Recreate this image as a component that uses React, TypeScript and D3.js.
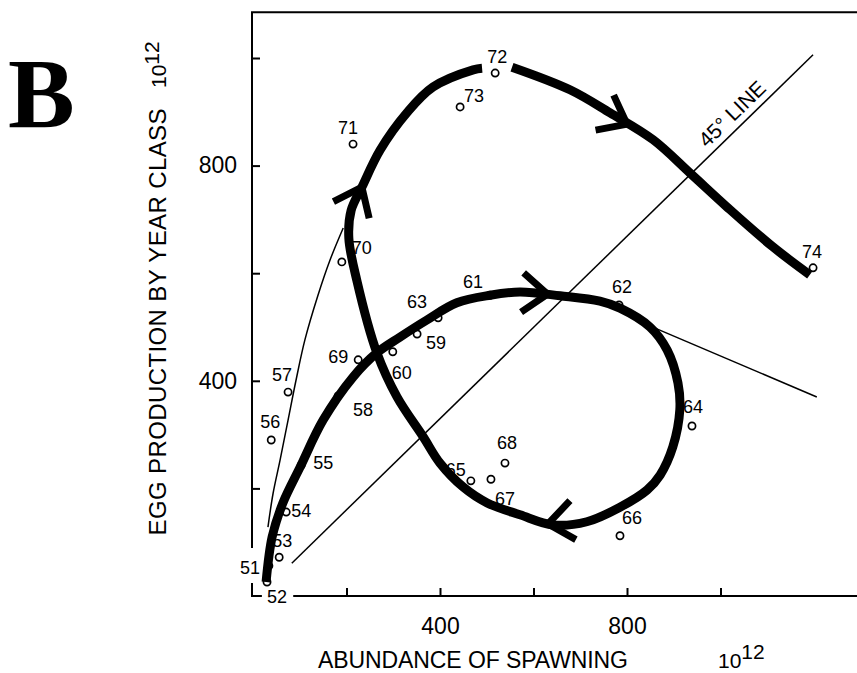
import { useEffect, useRef } from 'react';
import * as d3 from 'd3';

const W = 857;
const H = 673;

// year classes: abundance of spawning (x) vs egg production (y), both in 10^12
const years = ['51', '52', '53', '54', '55', '56', '57', '58', '59', '60', '61', '62', '63', '64', '65', '66', '67', '68', '69', '70', '71', '72', '73', '74'];
const spawning = [34, 30, 56, 71, 103, 39, 75, 182, 351, 299, 507, 783, 396, 939, 466, 785, 509, 539, 225, 190, 214, 518, 443, 1198];
const eggs = [56, 26, 72, 156, 243, 290, 379, 372, 487, 454, 559, 541, 517, 316, 214, 112, 217, 247, 439, 621, 840, 972, 909, 610];

// thick hand-drawn trajectory, split where it breaks around 72
const trendToPeak: [number, number][] = [
  [28, 26], [41, 110], [64, 173], [101, 240], [150, 327], [214, 407], [265, 452], [314, 481],
  [372, 513], [436, 545], [507, 559], [571, 565], [657, 558], [742, 548], [785, 535], [849, 500],
  [886, 457], [909, 396], [913, 346], [898, 277], [871, 225], [843, 197], [785, 165], [714, 138],
  [642, 132], [571, 151], [501, 173], [449, 203], [400, 247], [364, 296], [308, 370], [265, 452],
  [222, 587], [205, 665], [210, 717], [233, 760], [272, 829], [329, 898], [385, 946], [471, 978], [490, 981],
];
const trendAfterPeak: [number, number][] = [
  [554, 983], [678, 941], [764, 898], [856, 848], [935, 786], [1014, 723], [1112, 649], [1191, 597],
];

// thin lines
const earlyCurve: [number, number][] = [
  [32, 128], [43, 191], [58, 253], [75, 327], [92, 401], [111, 476], [139, 559], [165, 625], [193, 684],
];
const lateTail: [number, number][] = [[860, 498], [1206, 370]];
const line45: [number, number][] = [[83, 61], [1198, 1006]];
const line45Label: [number, number] = [1046, 877];

// arrow heads: tip and a point behind it on the trajectory
const arrows = [
  { at: [233, 760], from: [210, 717] },
  { at: [800, 877], from: [742, 903] },
  { at: [630, 561], from: [560, 565] },
  { at: [631, 134], from: [699, 143] },
];

const xTicks = [200, 400, 600, 800, 1000];
const yTicks = [200, 400, 600, 800, 1000];
const tickLabels = [400, 800];

// label placement (px offset from the point)
const labelOffset: Record<string, [number, number]> = {
  '51': [-19, 2], '52': [10, 15], '53': [3, -16], '54': [15, -1], '55': [22, -2],
  '56': [-1, -18], '57': [-6, -17], '58': [25, 14], '59': [19, 9], '60': [9, 21],
  '61': [-17, -13], '62': [3, -18], '63': [-21, -16], '64': [1, -19], '65': [-15, -11],
  '66': [12, -18], '67': [14, 20], '68': [2, -20], '69': [-20, -3], '70': [20, -14],
  '71': [-5, -16], '72': [2, -16], '73': [14, -11], '74': [-1, -16],
};

export default function App() {
  const svgRef = useRef<SVGSVGElement>(null);

  useEffect(() => {
    if (!svgRef.current) return;
    const svg = d3.select(svgRef.current);
    svg.selectAll('*').remove();

    const font = '"Liberation Sans", Arial, sans-serif';
    const x = d3.scaleLinear().domain([0, 1000]).range([253, 720.5]);
    const y = d3.scaleLinear().domain([0, 1000]).range([596, 58]);

    svg.append('rect').attr('width', W).attr('height', H).attr('fill', '#fff');

    // panel letter
    svg.append('text')
      .attr('x', 8).attr('y', 127)
      .attr('font-family', '"Liberation Serif", "Times New Roman", serif')
      .attr('font-weight', 'bold')
      .attr('font-size', 100)
      .text('B');

    // frame (left + top), broken near the origin
    const frame = svg.append('g').attr('fill', 'none').attr('stroke', '#000').attr('stroke-width', 2);
    frame.append('path').attr('d', `M${x(0) - 1},${y(89)}V${y(1085)}H${W}`);
    frame.append('path').attr('d', `M${x(86)},${y(0)}H${W}`);
    frame.append('path').attr('d', `M${x(0) - 1},${y(24)}V${y(0)}H${x(19)}`);

    // axes
    const yAxis = d3.axisLeft(y)
      .tickValues(yTicks)
      .tickSizeInner(-8)
      .tickSizeOuter(0)
      .tickPadding(15)
      .tickFormat(d => (tickLabels.includes(+d) ? String(d) : ''));
    const gy = svg.append('g')
      .attr('transform', `translate(${x(0) - 1},0)`)
      .call(yAxis)
      .attr('font-family', font)
      .attr('font-size', 23);
    gy.select('.domain').remove();
    gy.selectAll('line').attr('stroke-width', 2);

    const xAxis = d3.axisBottom(x)
      .tickValues(xTicks)
      .tickSizeInner(-8)
      .tickSizeOuter(0)
      .tickPadding(22)
      .tickFormat(d => (tickLabels.includes(+d) ? String(d) : ''));
    const gx = svg.append('g')
      .attr('transform', `translate(0,${y(0)})`)
      .call(xAxis)
      .attr('font-family', font)
      .attr('font-size', 23);
    gx.select('.domain').remove();
    gx.selectAll('line').attr('stroke-width', 2);

    // axis titles
    svg.append('text')
      .attr('x', 473).attr('y', 668)
      .attr('text-anchor', 'middle')
      .attr('font-family', font).attr('font-size', 23)
      .attr('textLength', 310).attr('lengthAdjust', 'spacing')
      .text('ABUNDANCE OF SPAWNING');
    const xUnit = svg.append('text')
      .attr('x', 718).attr('y', 668)
      .attr('font-family', font).attr('font-size', 21);
    xUnit.append('tspan').text('10');
    xUnit.append('tspan').attr('dy', -9).text('12');

    svg.append('text')
      .attr('transform', 'translate(166,322) rotate(-90)')
      .attr('text-anchor', 'middle')
      .attr('font-family', font).attr('font-size', 24)
      .attr('textLength', 427).attr('lengthAdjust', 'spacing')
      .text('EGG PRODUCTION BY YEAR CLASS');
    const yUnit = svg.append('text')
      .attr('transform', 'translate(166,88) rotate(-90)')
      .attr('font-family', font).attr('font-size', 21);
    yUnit.append('tspan').text('10');
    yUnit.append('tspan').attr('dy', -7).text('12');

    const straight = d3.line<[number, number]>().x(d => x(d[0])).y(d => y(d[1]));
    const smooth = d3.line<[number, number]>().x(d => x(d[0])).y(d => y(d[1])).curve(d3.curveCatmullRom.alpha(0.5));

    // thin lines
    const thin = svg.append('g').attr('fill', 'none').attr('stroke', '#000').attr('stroke-width', 1.5);
    thin.append('path').attr('d', straight(line45));
    thin.append('path').attr('d', smooth(earlyCurve));
    thin.append('path').attr('d', straight(lateTail));

    const p1 = [x(line45[0][0]), y(line45[0][1])];
    const p2 = [x(line45[1][0]), y(line45[1][1])];
    const ang = (Math.atan2(p2[1] - p1[1], p2[0] - p1[0]) * 180) / Math.PI;
    svg.append('text')
      .attr('transform', `translate(${x(line45Label[0])},${y(line45Label[1])}) rotate(${ang})`)
      .attr('dy', -7)
      .attr('text-anchor', 'middle')
      .attr('font-family', font).attr('font-size', 21)
      .text('45° LINE');

    // points
    const pts = years.map((yr, i) => ({ yr, sx: spawning[i], ey: eggs[i] }));
    svg.append('g')
      .selectAll('circle')
      .data(pts)
      .enter()
      .append('circle')
      .attr('cx', d => x(d.sx))
      .attr('cy', d => y(d.ey))
      .attr('r', 3.6)
      .attr('fill', '#fff')
      .attr('stroke', '#000')
      .attr('stroke-width', 1.7);

    svg.append('g')
      .attr('font-family', font)
      .attr('font-size', 18)
      .attr('text-anchor', 'middle')
      .selectAll('text')
      .data(pts)
      .enter()
      .append('text')
      .attr('x', d => x(d.sx) + labelOffset[d.yr][0])
      .attr('y', d => y(d.ey) + labelOffset[d.yr][1])
      .attr('dominant-baseline', 'central')
      .text(d => d.yr);

    // thick trajectory
    const thick = svg.append('g').attr('fill', 'none').attr('stroke', '#000').attr('stroke-width', 9);
    thick.append('path').attr('d', smooth(trendToPeak));
    thick.append('path').attr('d', smooth(trendAfterPeak));

    // arrow heads
    const L = 32;
    const th = (38 * Math.PI) / 180;
    arrows.forEach(a => {
      const tx = x(a.at[0]);
      const ty = y(a.at[1]);
      const dx = tx - x(a.from[0]);
      const dy = ty - y(a.from[1]);
      const n = Math.hypot(dx, dy);
      const ux = dx / n;
      const uy = dy / n;
      const barb = (s: number) => {
        const c = Math.cos(s * th);
        const sn = Math.sin(s * th);
        const rx = ux * c - uy * sn;
        const ry = ux * sn + uy * c;
        return [tx - L * rx, ty - L * ry];
      };
      const b1 = barb(1);
      const b2 = barb(-1);
      thick.append('path')
        .attr('d', `M${b1[0]},${b1[1]}L${tx},${ty}L${b2[0]},${b2[1]}`)
        .attr('stroke-width', 7)
        .attr('stroke-linejoin', 'miter');
    });
  }, []);

  return (
    <svg
      ref={svgRef}
      width={W}
      height={H}
      style={{ position: 'absolute', left: 0, top: 0, display: 'block' }}
    />
  );
}
